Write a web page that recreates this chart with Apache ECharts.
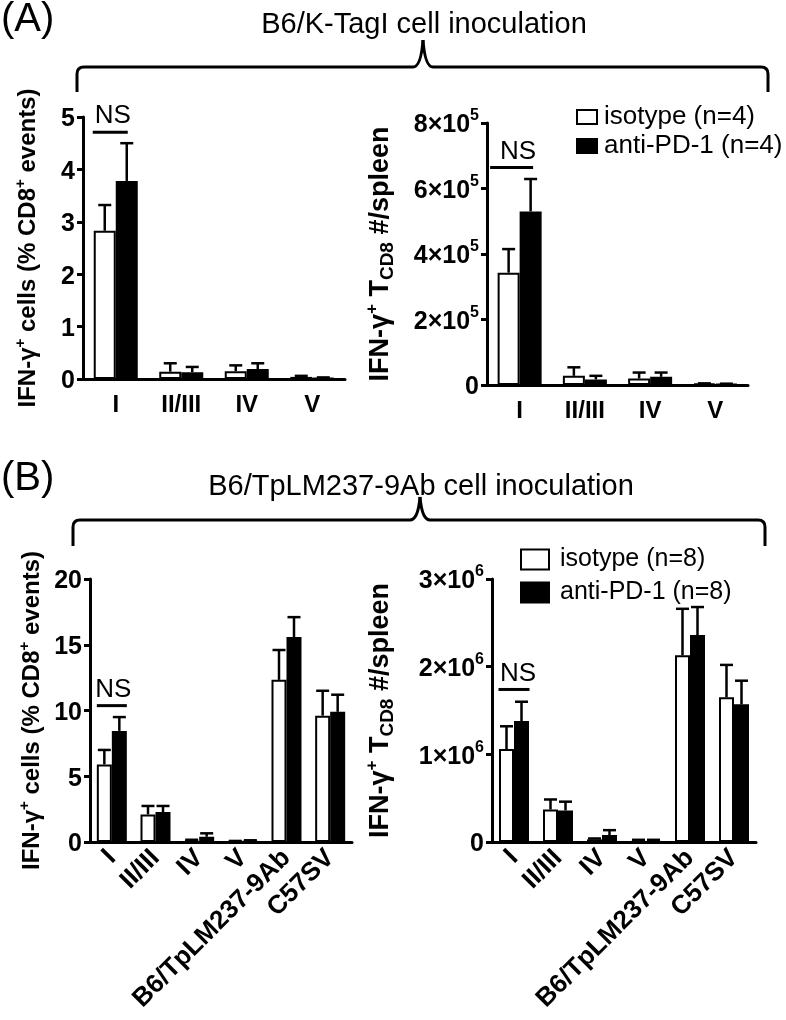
<!DOCTYPE html>
<html><head><meta charset="utf-8">
<script src="https://cdn.jsdelivr.net/npm/echarts@6/dist/echarts.min.js"></script>
<style>html,body{margin:0;padding:0;background:#fff}#c{width:786px;height:1020px}</style>
</head><body><div id="c"></div>
<script>
// ---------- data ----------
const catsA = ['I', 'II/III', 'IV', 'V'];
const catsB = ['I', 'II/III', 'IV', 'V', 'B6/TpLM237-9Ab', 'C57SV'];

// (A) % CD8+ events
const aPctIso = [2.83, 0.14, 0.15, 0.04];
const aPctIsoSem = [0.49, 0.16, 0.11, 0.02];
const aPctAnti = [3.78, 0.13, 0.19, 0.02];
const aPctAntiSem = [0.72, 0.10, 0.11, 0.01];
// (A) number per spleen
const aNumIso = [343000, 28000, 20000, 4000];
const aNumIsoSem = [72000, 26000, 18000, 1000];
const aNumAnti = [530000, 17000, 25000, 3000];
const aNumAntiSem = [99000, 11000, 13000, 1000];
// (B) % CD8+ events
const bPctIso = [5.9, 2.1, 0.12, 0.05, 12.33, 9.61];
const bPctIsoSem = [1.1, 0.64, 0.05, 0.03, 2.27, 1.89];
const bPctAnti = [8.45, 2.28, 0.40, 0.10, 15.58, 9.90];
const bPctAntiSem = [1.05, 0.46, 0.26, 0.03, 1.52, 1.3];
// (B) number per spleen
const bNumIso = [1060000, 370000, 30000, 20000, 2130000, 1650000];
const bNumIsoSem = [260000, 115000, 10000, 5000, 530000, 370000];
const bNumAnti = [1380000, 360000, 80000, 20000, 2360000, 1570000];
const bNumAntiSem = [220000, 100000, 55000, 5000, 320000, 270000];

// NS annotation levels (data units) over category I
const nsLevels = [4.71, 664000, 10.37, 1740000];

// axis ranges
const yMax = [5, 800000, 20, 3000000];
const yStep = [1, 200000, 5, 1000000];
const yExp = [0, 5, 0, 6];

const seriesNames = [['isotype (n=4)', 'anti-PD-1 (n=4)'], ['isotype (n=8)', 'anti-PD-1 (n=8)']];
const panelTitles = ['B6/K-TagI cell inoculation', 'B6/TpLM237-9Ab cell inoculation'];

// ---------- styling ----------
const FF = "'Liberation Sans', Arial, Helvetica, sans-serif";
const chart = echarts.init(document.getElementById('c'), null, {renderer: 'canvas'});

const grids = [
  {left: 83, top: 117, width: 262, height: 262},
  {left: 487, top: 123, width: 261, height: 262},
  {left: 90, top: 579, width: 262, height: 263},
  {left: 492, top: 579, width: 264, height: 263}
];
const barW = [22, 22, 15, 15];
const nameGaps = [40, 90, 43, 95];

const richTick = {
  b: {fontSize: 25, fontWeight: 'bold', fontFamily: FF, color: '#000', lineHeight: 30, verticalAlign: 'bottom'},
  s: {fontSize: 16, fontWeight: 'bold', fontFamily: FF, color: '#000', lineHeight: 22, verticalAlign: 'top'}
};
function richName(sz) {
  return {
    t: {fontSize: sz, fontWeight: 'bold', fontFamily: FF, color: '#000', lineHeight: sz + 6, verticalAlign: 'middle'},
    s: {fontSize: Math.round(sz * 0.64), fontWeight: 'bold', fontFamily: FF, color: '#000', lineHeight: 17, verticalAlign: 'top'},
    d: {fontSize: Math.round(sz * 0.72), fontWeight: 'bold', fontFamily: FF, color: '#000', lineHeight: 18, verticalAlign: 'bottom'}
  };
}
const nameA = '{t|IFN-γ}{s|+}{t| cells (% CD8}{s|+}{t| events)}';
const nameN = '{t|IFN-γ}{s|+}{t| T}{d|CD8}{t| #/spleen}';

function yFormatter(k) {
  return function (v) {
    if (v === 0 || yExp[k] === 0) return '{b|' + v + '}';
    return '{b|' + Math.round(v / Math.pow(10, yExp[k])) + '×10}{s|' + yExp[k] + '}';
  };
}

const xAxes = [], yAxes = [];
for (let k = 0; k < 4; k++) {
  const isB = k >= 2;
  const isPct = (k % 2 === 0);
  xAxes.push({
    type: 'category', gridIndex: k, data: isB ? catsB : catsA,
    axisLine: {lineStyle: {color: '#000', width: 3}},
    axisTick: {alignWithLabel: true, length: 10, lineStyle: {color: '#000', width: 3}},
    axisLabel: {interval: 0, rotate: isB ? 45 : 0, margin: isB ? 12 : 14,
      fontSize: isB ? 26 : 24, fontWeight: 'bold', fontFamily: FF, color: '#000'},
    splitLine: {show: false}
  });
  yAxes.push({
    type: 'value', gridIndex: k, min: 0, max: yMax[k], interval: yStep[k],
    name: isPct ? nameA : nameN, nameLocation: 'middle', nameRotate: 90,
    nameGap: nameGaps[k], nameMoveOverlap: false,
    nameTextStyle: {rich: richName(isPct ? 24 : 27)},
    axisLine: {show: true, lineStyle: {color: '#000', width: 3}},
    axisTick: {show: true, length: 6, lineStyle: {color: '#000', width: 3}},
    axisLabel: {margin: 8, formatter: yFormatter(k), rich: richTick},
    splitLine: {show: false}
  });
}

function errRender(off) {
  return function (params, api) {
    const base = api.coord([api.value(0), api.value(1)]);
    const top = api.coord([api.value(0), api.value(2)]);
    const x = base[0] + off;
    const st = {stroke: '#000', lineWidth: 2.5};
    return {type: 'group', children: [
      {type: 'line', shape: {x1: x, y1: base[1], x2: x, y2: top[1]}, style: st},
      {type: 'line', shape: {x1: x - 6.5, y1: top[1], x2: x + 6.5, y2: top[1]}, style: st}
    ]};
  };
}

const nsGeom = [
  {dx: -5.5, hw: 17.5, tdx: -3},
  {dx: -8, hw: 21.5, tdx: -1.5},
  {dx: 0, hw: 15, tdx: 1.5},
  {dx: 0, hw: 15.5, tdx: 4}
];
function nsRender(g) {
  return function (params, api) {
    const p = api.coord([api.value(0), api.value(1)]);
    const cx = p[0] + g.dx;
    return {type: 'group', children: [
      {type: 'line', shape: {x1: cx - g.hw, y1: p[1], x2: cx + g.hw, y2: p[1]}, style: {stroke: '#000', lineWidth: 3}},
      {type: 'text', x: p[0] + g.tdx, y: p[1] - 3, style: {text: 'NS', fontSize: 26, fontFamily: FF, fill: '#000', align: 'center', verticalAlign: 'bottom'}}
    ]};
  };
}

const panels = [
  [aPctIso, aPctIsoSem, aPctAnti, aPctAntiSem],
  [aNumIso, aNumIsoSem, aNumAnti, aNumAntiSem],
  [bPctIso, bPctIsoSem, bPctAnti, bPctAntiSem],
  [bNumIso, bNumIsoSem, bNumAnti, bNumAntiSem]
];

const series = [];
panels.forEach(function (p, k) {
  const names = seriesNames[k >= 2 ? 1 : 0];
  const bw = barW[k];
  series.push({
    type: 'bar', name: names[0], xAxisIndex: k, yAxisIndex: k, data: p[0],
    barWidth: bw, barGap: '0%',
    itemStyle: {color: '#fff', borderColor: '#000', borderWidth: 2}
  });
  series.push({
    type: 'bar', name: names[1], xAxisIndex: k, yAxisIndex: k, data: p[2],
    barWidth: bw, barGap: '0%',
    itemStyle: {color: '#000', borderColor: '#000', borderWidth: 2}
  });
  series.push({
    type: 'custom', xAxisIndex: k, yAxisIndex: k, z: 1, clip: false,
    data: p[0].map(function (m, i) { return [i, m, m + p[1][i]]; }),
    encode: {x: 0, y: [1, 2]}, renderItem: errRender(-bw / 2)
  });
  series.push({
    type: 'custom', xAxisIndex: k, yAxisIndex: k, z: 1, clip: false,
    data: p[2].map(function (m, i) { return [i, m, m + p[3][i]]; }),
    encode: {x: 0, y: [1, 2]}, renderItem: errRender(bw / 2)
  });
  series.push({
    type: 'custom', xAxisIndex: k, yAxisIndex: k, z: 3, clip: false,
    data: [[0, nsLevels[k]]], encode: {x: 0, y: 1}, renderItem: nsRender(nsGeom[k])
  });
});

// curly bracket built from lines and quadratic curves
function bracket(xl, xr, xp, yh, yEnd, yPeak) {
  const st = {stroke: '#000', lineWidth: 3, fill: null};
  const r = 7;
  return {type: 'group', children: [
    {type: 'line', shape: {x1: xl, y1: yEnd, x2: xl, y2: yh + r}, style: st},
    {type: 'bezierCurve', shape: {x1: xl, y1: yh + r, cpx1: xl, cpy1: yh, x2: xl + r, y2: yh}, style: st},
    {type: 'line', shape: {x1: xl + r, y1: yh, x2: xp - 10, y2: yh}, style: st},
    {type: 'bezierCurve', shape: {x1: xp - 10, y1: yh, cpx1: xp - 2, cpy1: yh, x2: xp, y2: yPeak}, style: st},
    {type: 'bezierCurve', shape: {x1: xp, y1: yPeak, cpx1: xp + 2, cpy1: yh, x2: xp + 10, y2: yh}, style: st},
    {type: 'line', shape: {x1: xp + 10, y1: yh, x2: xr - r, y2: yh}, style: st},
    {type: 'bezierCurve', shape: {x1: xr - r, y1: yh, cpx1: xr, cpy1: yh, x2: xr, y2: yh + r}, style: st},
    {type: 'line', shape: {x1: xr, y1: yh + r, x2: xr, y2: yEnd}, style: st}
  ]};
}

const option = {
  backgroundColor: '#fff',
  animation: false,
  grid: grids,
  xAxis: xAxes,
  yAxis: yAxes,
  legend: [
    {data: seriesNames[0], left: 571, top: 99, orient: 'vertical', itemWidth: 20, itemHeight: 14, itemGap: 3,
      selectedMode: false, icon: 'rect', textStyle: {fontSize: 26, fontFamily: FF, color: '#000', padding: [0, 0, 0, 2]}},
    {data: seriesNames[1], left: 515, top: 542, orient: 'vertical', itemWidth: 28, itemHeight: 20, itemGap: 8,
      selectedMode: false, icon: 'rect', textStyle: {fontSize: 25, fontFamily: FF, color: '#000', padding: [0, 0, 0, 6]}}
  ],
  graphic: [
    {type: 'text', x: 1, y: 20, style: {text: '(A)', fontSize: 40, fontFamily: FF, fill: '#000', verticalAlign: 'middle'}},
    {type: 'text', x: 424, y: 25, style: {text: panelTitles[0], fontSize: 29, fontFamily: FF, fill: '#000', align: 'center', verticalAlign: 'middle'}},
    bracket(77, 768, 423, 67, 92, 40),
    {type: 'text', x: 1, y: 479, style: {text: '(B)', fontSize: 40, fontFamily: FF, fill: '#000', verticalAlign: 'middle'}},
    {type: 'text', x: 421, y: 487, style: {text: panelTitles[1], fontSize: 29, fontFamily: FF, fill: '#000', align: 'center', verticalAlign: 'middle'}},
    bracket(73, 765, 420, 520, 546, 497)
  ],
  series: series
};
chart.setOption(option);
</script>
</body></html>
